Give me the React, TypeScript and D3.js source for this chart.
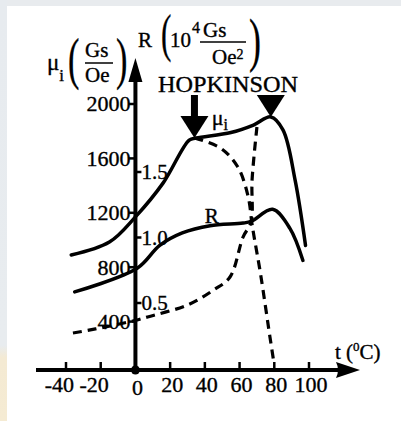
import React from "react";
import * as d3 from "d3";

// axis ticks
const tempTicks = [-40, -20, 0, 20, 40, 60, 80, 100];
const muTicks = [400, 800, 1200, 1600, 2000];
const rTicks = [0.5, 1.0, 1.5];

// initial permeability mu_i (solid)
const muTemp = [-37, -15, 0, 16, 31, 35, 55, 68, 78, 85, 92, 98];
const muValues = [890, 985, 1170, 1420, 1735, 1750, 1790, 1845, 1905, 1810, 1440, 960];

// R (solid, right scale)
const rTemp = [-35, 1, 14, 27, 43, 62, 67, 79, 89, 96.5];
const rValues = [0.585, 0.765, 0.94, 1.035, 1.09, 1.11, 1.125, 1.215, 1.07, 0.825];

// dashed curves
const fallTemp = [34, 49, 59, 65, 67, 68, 72, 77.5, 79.5];
const fallValues = [1750, 1676, 1537, 1316, 1132, 1051, 757, 287, 120];
const riseTemp = [-36, -23, 1, 7, 30, 45, 54.5, 62, 66.6, 67.2, 70];
const riseValues = [316, 346, 412, 434, 522, 632, 728, 1022, 1132, 1441, 1831];

// Hopkinson peaks
const hopTemp = [34, 78];
const hopValues = [1750, 1905];

const W = 401;
const H = 421;
const FONT = "'Liberation Serif', 'Times New Roman', serif";

export default function App() {
  const x = d3.scaleLinear().domain([-40, 100]).range([66, 309]);
  const yMu = d3.scaleLinear().domain([0, 2000]).range([376, 104]);
  const yR = d3.scaleLinear().domain([0, 1.5]).range([368.5, 172]);

  const axisY = 370;
  const x0 = x(0);

  const makeLine = (temps: number[], scale: d3.ScaleLinear<number, number>) =>
    d3
      .line<number>()
      .x((d, i) => x(temps[i]))
      .y((d) => scale(d))
      .curve(d3.curveCatmullRom.alpha(0.5));

  const muLine = makeLine(muTemp, yMu);
  const rLine = makeLine(rTemp, yR);
  const fallLine = makeLine(fallTemp, yMu);
  const riseLine = makeLine(riseTemp, yMu);

  const xEnd = 360;
  const xStart = 36;
  const yTop = 58;

  // scanned text looks a bit heavy
  const ink = { fill: "#000", stroke: "#000", strokeWidth: 0.35 };

  return (
    <svg
      width={W}
      height={H}
      style={{ position: "absolute", left: 0, top: 0, background: "#fff", fontFamily: FONT }}
    >
      <defs>
        <linearGradient id="side" x1="0" y1="0" x2="0" y2="1">
          <stop offset="0" stopColor="#e7ebef" />
          <stop offset="0.82" stopColor="#e8ecef" />
          <stop offset="0.85" stopColor="#f4ead3" />
          <stop offset="1" stopColor="#f5ebd3" />
        </linearGradient>
      </defs>
      <rect x={0} y={0} width={W} height={6} fill="#e8ebee" />
      <rect x={0} y={0} width={7} height={H} fill="url(#side)" />

      {/* axes */}
      <line x1={xStart} x2={xEnd - 20} y1={axisY} y2={axisY} stroke="#000" strokeWidth={4} />
      <path
        d={`M${xEnd},${axisY} L${xEnd - 24},${axisY - 8} Q${xEnd - 20},${axisY} ${xEnd - 24},${axisY + 8} Z`}
        fill="#000"
      />
      <line x1={x0} x2={x0} y1={axisY} y2={yTop + 18} stroke="#000" strokeWidth={4} />
      <path d={`M${x0},${yTop} L${x0 + 7},${yTop + 24} L${x0 - 7},${yTop + 24} Z`} fill="#000" />
      <circle cx={x0} cy={axisY} r={4.5} fill="#000" />

      {/* x ticks */}
      {tempTicks.map((t) => (
        <g key={t}>
          {t !== 0 && (
            <line x1={x(t)} x2={x(t)} y1={axisY - 8} y2={axisY} stroke="#000" strokeWidth={2.5} />
          )}
          <text
            {...ink}
            x={t < 0 ? x(t) + 8 : x(t) + 2}
            y={t === 0 ? 395 : 392}
            fontSize={22}
            textAnchor={t < 0 ? "end" : "middle"}
          >
            {t}
          </text>
        </g>
      ))}
      <text {...ink} x={335} y={359} fontSize={21}>
        t (
        <tspan fontSize={13} dy={-8}>
          0
        </tspan>
        <tspan dy={8}>C)</tspan>
      </text>

      {/* left ticks */}
      {muTicks.map((v) => (
        <g key={v}>
          <line x1={x0 - 7} x2={x0} y1={yMu(v)} y2={yMu(v)} stroke="#000" strokeWidth={2.5} />
          <text {...ink} x={x0 - 5} y={yMu(v)} dy="0.34em" fontSize={22} textAnchor="end">
            {v}
          </text>
        </g>
      ))}
      {/* right ticks */}
      {rTicks.map((v) => (
        <g key={v}>
          <line x1={x0} x2={x0 + 6} y1={yR(v)} y2={yR(v)} stroke="#000" strokeWidth={2.5} />
          <text {...ink} x={x0 + 6} y={yR(v)} dy="0.34em" fontSize={21}>
            {v.toFixed(1)}
          </text>
        </g>
      ))}

      {/* curves */}
      <path d={muLine(muValues) || ""} fill="none" stroke="#000" strokeWidth={3.5} strokeLinecap="round" />
      <path d={rLine(rValues) || ""} fill="none" stroke="#000" strokeWidth={3.5} strokeLinecap="round" />
      <path d={fallLine(fallValues) || ""} fill="none" stroke="#000" strokeWidth={3.2} strokeDasharray="9 6" />
      <path d={riseLine(riseValues) || ""} fill="none" stroke="#000" strokeWidth={3.2} strokeDasharray="9 6" />

      {/* curve labels */}
      <text {...ink} x={x(44)} y={yMu(1845)} fontSize={22}>
        μ
        <tspan fontSize={16} dy={5}>
          i
        </tspan>
      </text>
      <text {...ink} x={x(40)} y={yR(1.11)} fontSize={21}>
        R
      </text>

      {/* Hopkinson annotation */}
      <text {...ink} x={158} y={92} fontSize={23} textLength={140} lengthAdjust="spacingAndGlyphs">
        HOPKINSON
      </text>
      {hopTemp.map((t, i) => {
        const tx = x(t);
        const ty = yMu(hopValues[i]);
        const base = ty - 22;
        return (
          <g key={t}>
            <rect x={tx - 3.5} y={95} width={7} height={Math.max(base - 95, 0) + 1} fill="#000" />
            <path d={`M${tx},${ty} L${tx - 14},${base} L${tx + 14},${base} Z`} fill="#000" />
          </g>
        );
      })}

      {/* left axis title */}
      <text {...ink} x={47} y={70} fontSize={23}>
        μ
        <tspan fontSize={17} dy={11}>
          i
        </tspan>
      </text>
      <text {...ink} transform="translate(68,78) scale(0.6,1)" fontSize={57}>
        (
      </text>
      <text {...ink} x={85} y={57} fontSize={21}>
        Gs
      </text>
      <line x1={85} x2={113} y1={63} y2={63} stroke="#000" strokeWidth={1.5} />
      <text {...ink} x={85} y={82} fontSize={21}>
        Oe
      </text>
      <text {...ink} transform="translate(116,78) scale(0.6,1)" fontSize={57}>
        )
      </text>

      {/* right axis title */}
      <text {...ink} x={138} y={47} fontSize={21}>
        R
      </text>
      <text {...ink} transform="translate(161,51) scale(0.6,1)" fontSize={52}>
        (
      </text>
      <text {...ink} x={170} y={47} fontSize={21}>
        10
        <tspan fontSize={16} dx={1} dy={-14}>
          4
        </tspan>
      </text>
      <text {...ink} x={203} y={37} fontSize={21}>
        Gs
      </text>
      <line x1={200} x2={246} y1={42} y2={42} stroke="#000" strokeWidth={1.5} />
      <text {...ink} x={212} y={64} fontSize={21}>
        Oe
        <tspan fontSize={14} dy={-5}>
          2
        </tspan>
      </text>
      <text {...ink} transform="translate(249,60) scale(0.6,1)" fontSize={60}>
        )
      </text>
    </svg>
  );
}
